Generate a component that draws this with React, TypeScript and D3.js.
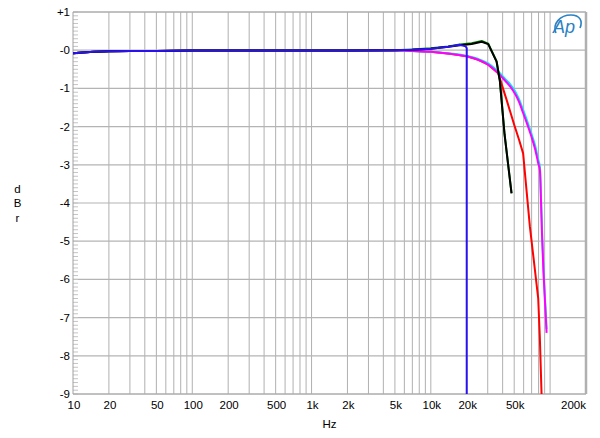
import React from "react";
import * as d3 from "d3";

const xTickValues = [10, 20, 50, 100, 200, 500, 1000, 2000, 5000, 10000, 20000, 50000, 200000];
const xTickLabels = ["10", "20", "50", "100", "200", "500", "1k", "2k", "5k", "10k", "20k", "50k", "200k"];
const yTickValues = [1, 0, -1, -2, -3, -4, -5, -6, -7, -8, -9];
const yTickLabels = ["+1", "-0", "-1", "-2", "-3", "-4", "-5", "-6", "-7", "-8", "-9"];

const baseFreq = [10, 12, 15, 20, 30, 50, 100, 200, 500, 1000, 2000, 5000];
const baseDb = [-0.08, -0.06, -0.04, -0.03, -0.02, -0.02, -0.01, -0.01, -0.01, -0.01, -0.01, 0.0];

const blackFreq = [...baseFreq, 7000, 10000, 14000, 17500, 22000, 26700, 30300, 35600, 37900, 41500, 47500];
const blackDb = [...baseDb, 0.01, 0.04, 0.09, 0.13, 0.16, 0.22, 0.16, -0.3, -0.8, -2.2, -3.75];

const greenFreq = [...baseFreq, 7000, 10000, 14000, 17500, 22000, 26700, 30300, 35600, 37900, 41500, 47500];
const greenDb = [...baseDb, 0.02, 0.05, 0.1, 0.15, 0.18, 0.24, 0.17, -0.29, -0.79, -2.19, -3.74];

const blueFreq = [...baseFreq, 7000, 10000, 14000, 17500, 19600, 20000, 20001];
const blueDb = [...baseDb, 0.01, 0.04, 0.09, 0.14, 0.1, 0.05, -12];

const magentaFreq = [...baseFreq, 7000, 10000, 15000, 20000, 25000, 30000, 36700, 42000, 46000, 49000, 52000, 55000, 59500, 65000, 70000, 75000, 79500, 82200, 84000, 85500, 88000, 91000, 93500];
const magentaDb = [...baseDb, -0.02, -0.04, -0.1, -0.16, -0.25, -0.37, -0.6, -0.8, -0.94, -1.06, -1.2, -1.36, -1.65, -1.98, -2.28, -2.6, -2.96, -3.16, -4.0, -4.8, -5.8, -6.7, -7.4];

const cyanFreq = [...baseFreq, 7000, 10000, 15000, 20000, 25000, 30000, 36700, 42000, 46000, 49000, 52000, 55000, 59500, 65000, 70000, 75000, 79500, 82200, 84000, 85500, 88000, 91000, 93500];
const cyanDb = [...baseDb, -0.02, -0.04, -0.09, -0.15, -0.23, -0.34, -0.56, -0.75, -0.88, -1.0, -1.13, -1.29, -1.57, -1.9, -2.2, -2.5, -2.86, -3.06, -3.9, -4.7, -5.7, -6.6, -7.3];

const redFreq = [...baseFreq, 7000, 10000, 15000, 20000, 25000, 30000, 36700, 43200, 50000, 55000, 59400, 67700, 74600, 79500, 82000, 85000, 86000];
const redDb = [...baseDb, -0.02, -0.04, -0.1, -0.16, -0.25, -0.37, -0.6, -1.3, -1.95, -2.35, -2.7, -4.62, -5.75, -6.5, -7.5, -9.1, -10];

const W = 600;
const H = 438;
const left = 73;
const right = 586;
const top = 12;
const bottom = 394;

export default function App() {
  const x = d3.scaleLog().domain([10, 200000]).range([left, right]);
  const y = d3.scaleLinear().domain([-9, 1]).range([bottom, top]);
  const line = d3
    .line<[number, number]>()
    .x((d) => x(d[0]))
    .y((d) => y(d[1]));
  const smooth = d3
    .line<[number, number]>()
    .x((d) => x(d[0]))
    .y((d) => y(d[1]))
    .curve(d3.curveMonotoneX);

  const zip = (f: number[], v: number[]) => f.map((ff, i) => [ff, v[i]] as [number, number]);

  const vGrid: number[] = [];
  for (let dec = 10; dec <= 100000; dec *= 10) {
    for (let m = 1; m <= 9; m++) {
      const f = dec * m;
      if (f > 10 && f < 200000) vGrid.push(f);
    }
  }
  const minorY: number[] = [];
  for (let i = -90; i <= 10; i++) minorY.push(i / 10);

  const series = [
    { f: redFreq, v: redDb, c: "#ff0000", s: false },
    { f: cyanFreq, v: cyanDb, c: "#00e8f0", s: true },
    { f: magentaFreq, v: magentaDb, c: "#ff00ff", s: true },
    { f: greenFreq, v: greenDb, c: "#008a00", s: false },
    { f: blackFreq, v: blackDb, c: "#000000", s: false },
    { f: blueFreq, v: blueDb, c: "#2a12ee", s: false },
  ];

  const font = "'Liberation Sans', Arial, sans-serif";

  return (
    <svg
      width={W}
      height={H}
      style={{ position: "absolute", left: 0, top: 0, background: "#fff" }}
      fontFamily={font}
    >
      <rect x={0} y={0} width={W} height={H} fill="#fff" />
      <defs>
        <clipPath id="plot">
          <rect x={left} y={top} width={right - left} height={bottom - top} />
        </clipPath>
      </defs>
      {vGrid.map((f) => (
        <line key={"v" + f} x1={x(f)} x2={x(f)} y1={top} y2={bottom} stroke="#b0b0b0" strokeWidth={1} />
      ))}
      {yTickValues.map((v) => (
        <line key={"h" + v} x1={left} x2={right} y1={y(v)} y2={y(v)} stroke="#b4b4b4" strokeWidth={1.2} />
      ))}
      {minorY.map((v) => (
        <line key={"m" + v} x1={left} x2={left + 5} y1={y(v)} y2={y(v)} stroke="#c4c4c4" strokeWidth={1} />
      ))}
      <line x1={left} x2={left} y1={top} y2={bottom} stroke="#a0a0a0" strokeWidth={1} />
      <line x1={left} x2={right} y1={top} y2={top} stroke="#a8a8a8" strokeWidth={1} />
      <line x1={left} x2={right} y1={bottom} y2={bottom} stroke="#a8a8a8" strokeWidth={1} />
      <line x1={right} x2={right} y1={top} y2={bottom} stroke="#b0b0b0" strokeWidth={2.5} />

      <g clipPath="url(#plot)">
        {series.map((s, i) => (
          <path
            key={i}
            d={(s.s ? smooth : line)(zip(s.f, s.v)) || ""}
            fill="none"
            stroke={s.c}
            strokeWidth={2}
            strokeLinejoin="round"
          />
        ))}
      </g>

      {yTickValues.map((v, i) => (
        <text key={"yl" + v} x={left - 3} y={y(v) + 4} textAnchor="end" fontSize={11.5} fill="#000">
          {yTickLabels[i]}
        </text>
      ))}
      {xTickValues.map((v, i) => (
        <text
          key={"xl" + v}
          x={i === xTickValues.length - 1 ? right : x(v) + 1}
          y={409}
          textAnchor={i === xTickValues.length - 1 ? "end" : "middle"}
          fontSize={11.5}
          fill="#000"
        >
          {xTickLabels[i]}
        </text>
      ))}
      <text x={(left + right) / 2} y={428} textAnchor="middle" fontSize={11.5}>Hz</text>
      <text x={17.5} y={193} textAnchor="middle" fontSize={11.5}>d</text>
      <text x={17.5} y={207} textAnchor="middle" fontSize={11.5}>B</text>
      <text x={17.5} y={222} textAnchor="middle" fontSize={11.5}>r</text>

      <g>
        <path
          d="M 556 33 C 552 24, 560 15, 571 15 C 580 15, 583 21, 580 28"
          fill="none"
          stroke="#2a82c4"
          strokeWidth={1.6}
        />
        <text x={553} y={33} fontSize={18} fontStyle="italic" fill="#2a82c4" fontFamily={font}>Ap</text>
      </g>
    </svg>
  );
}
